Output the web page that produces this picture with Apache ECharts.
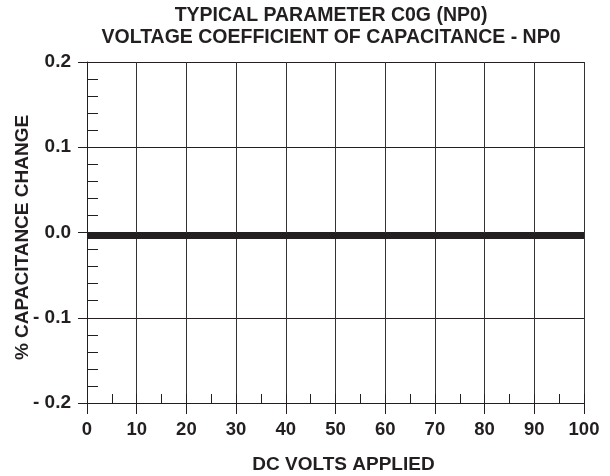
<!DOCTYPE html>
<html>
<head>
<meta charset="utf-8">
<script src="https://cdn.jsdelivr.net/npm/echarts@6/dist/echarts.min.js"></script>
<style>
  html, body { margin: 0; padding: 0; background: #fff; }
  #chart { width: 610px; height: 476px; }
</style>
</head>
<body>
<div id="chart"></div>
<script>
var titleLines = ['TYPICAL PARAMETER C0G (NP0)', 'VOLTAGE COEFFICIENT OF CAPACITANCE - NP0'];
var xName = 'DC VOLTS APPLIED';
var yName = '% CAPACITANCE CHANGE';

// x axis: DC volts
var volts = [0, 10, 20, 30, 40, 50, 60, 70, 80, 90, 100];
// y axis: % change (flat line, sits just under 0.0)
var capChange = [-0.004, -0.004, -0.004, -0.004, -0.004, -0.004, -0.004, -0.004, -0.004, -0.004, -0.004];
var yTickLabels = ['- 0.2', '- 0.1', '0.0', '0.1', '0.2'];

var INK = '#231f20';
var FONT = 'Liberation Sans';
var gridBox = { left: 87, right: 26, top: 62, bottom: 73, containLabel: false, outerBoundsMode: 'none' };

var chart = echarts.init(document.getElementById('chart'));

var lineData = volts.map(function(v, i) { return [v, capChange[i]]; });

var opts = {
    animation: false,
    textStyle: { fontFamily: FONT, color: INK },
    title: [{
        text: titleLines[0],
        left: 331, top: 6, textAlign: 'center', padding: 0,
        textStyle: { fontFamily: FONT, fontSize: 19.5, fontWeight: 'bold', color: INK }
    }, {
        text: titleLines[1],
        left: 331, top: 28, textAlign: 'center', padding: 0,
        textStyle: { fontFamily: FONT, fontSize: 19.5, fontWeight: 'bold', color: INK }
    }],
    grid: [
        Object.assign({}, gridBox),
        Object.assign({}, gridBox)   // second grid only carries the inside minor ticks
    ],
    xAxis: [{
        type: 'value', gridIndex: 0,
        min: 0, max: 100, interval: 10,
        name: xName, nameLocation: 'middle', nameGap: 52, nameMoveOverlap: false,
        nameTextStyle: { fontFamily: FONT, fontSize: 19, fontWeight: 'bold', color: INK, padding: [0, 0, 0, 16] },
        axisLine: { onZero: false, lineStyle: { color: INK, width: 1 } },
        axisTick: { show: true, length: 11, lineStyle: { color: INK } },
        axisLabel: { margin: 17, fontSize: 18.5, fontWeight: 'bold', color: INK, fontFamily: FONT },
        splitLine: { show: true, lineStyle: { color: '#333', width: 1 } }
    }, {
        type: 'value', gridIndex: 1,
        min: 0, max: 100, interval: 5,
        axisLine: { show: false, onZero: false },
        axisTick: { show: true, inside: true, length: 9, lineStyle: { color: INK } },
        axisLabel: { show: false },
        splitLine: { show: false }
    }],
    yAxis: [{
        type: 'value', gridIndex: 0,
        min: -0.2, max: 0.2, interval: 0.1,
        name: yName, nameLocation: 'middle', nameGap: 55, nameMoveOverlap: false,
        nameTextStyle: { fontFamily: FONT, fontSize: 19, fontWeight: 'bold', color: INK, padding: [0, 10, 0, 0] },
        axisLine: { show: true, onZero: false, lineStyle: { color: INK, width: 1 } },
        axisTick: { show: true, length: 9, lineStyle: { color: INK } },
        axisLabel: {
            margin: 16, fontSize: 19, fontWeight: 'bold', color: INK, fontFamily: FONT,
            formatter: function(v) { return yTickLabels[Math.round((v + 0.2) / 0.1)]; }
        },
        splitLine: { show: true, lineStyle: { color: INK, width: 1 } }
    }, {
        type: 'value', gridIndex: 1,
        min: -0.2, max: 0.2, interval: 0.02,
        axisLine: { show: false, onZero: false },
        axisTick: { show: true, inside: true, length: 11, lineStyle: { color: INK } },
        axisLabel: { show: false },
        splitLine: { show: false }
    }],
    series: [{
        type: 'line',
        xAxisIndex: 0, yAxisIndex: 0,
        data: lineData,
        symbol: 'none',
        lineStyle: { color: INK, width: 6 },
        z: 5
    }]
};

chart.setOption(opts);
</script>
</body>
</html>
